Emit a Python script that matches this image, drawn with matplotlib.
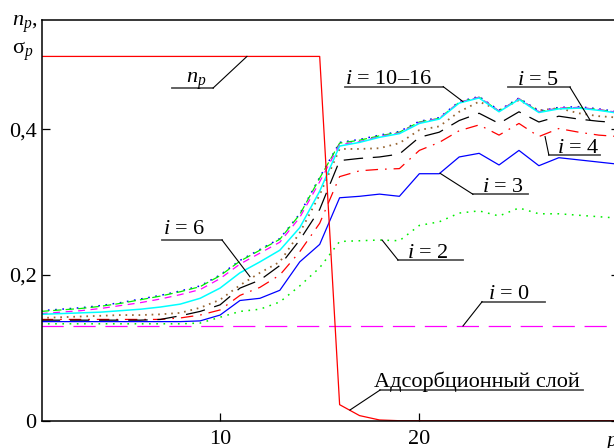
import numpy as np
import matplotlib.pyplot as plt

plt.rcParams['font.family'] = ['Liberation Serif', 'DejaVu Serif']
plt.rcParams['mathtext.fontset'] = 'custom'
plt.rcParams['mathtext.rm'] = 'Liberation Serif'
plt.rcParams['mathtext.it'] = 'Liberation Serif:italic'
plt.rcParams['lines.scale_dashes'] = False

p = np.arange(1, 31)

n_p = [0.5] * 15 + [0.022, 0.007, 0.001] + [0.0] * 12

s0 = [0.13] * 30
s2 = [0.133, 0.133, 0.133, 0.133, 0.133, 0.133, 0.133, 0.133, 0.134, 0.142,
      0.150, 0.153, 0.163, 0.185, 0.210, 0.246, 0.247, 0.248, 0.247, 0.268,
      0.273, 0.285, 0.288, 0.281, 0.292, 0.284, 0.284, 0.282, 0.280, 0.278]
s3 = [0.136, 0.136, 0.136, 0.136, 0.136, 0.136, 0.136, 0.136, 0.137, 0.145,
      0.165, 0.168, 0.179, 0.218, 0.242, 0.306, 0.308, 0.311, 0.308, 0.339,
      0.339, 0.362, 0.367, 0.351, 0.371, 0.350, 0.361, 0.358, 0.355, 0.352]
s4 = [0.139, 0.139, 0.139, 0.139, 0.139, 0.139, 0.139, 0.141, 0.145, 0.152,
      0.172, 0.183, 0.200, 0.232, 0.271, 0.335, 0.343, 0.345, 0.346, 0.371,
      0.382, 0.398, 0.406, 0.392, 0.408, 0.390, 0.401, 0.396, 0.392, 0.390]
s5 = [0.138, 0.138, 0.138, 0.138, 0.138, 0.138, 0.139, 0.144, 0.150, 0.159,
      0.182, 0.193, 0.213, 0.248, 0.290, 0.357, 0.360, 0.362, 0.366, 0.389,
      0.396, 0.412, 0.422, 0.408, 0.424, 0.410, 0.418, 0.414, 0.411, 0.409]
s6 = [0.141, 0.142, 0.143, 0.144, 0.145, 0.145, 0.146, 0.148, 0.155, 0.166,
      0.186, 0.203, 0.218, 0.258, 0.310, 0.373, 0.373, 0.374, 0.381, 0.399,
      0.404, 0.424, 0.438, 0.426, 0.440, 0.426, 0.429, 0.422, 0.418, 0.416]
s_cyan = [0.146, 0.147, 0.148, 0.149, 0.151, 0.153, 0.156, 0.160, 0.168, 0.182,
          0.203, 0.218, 0.234, 0.265, 0.315, 0.377, 0.382, 0.389, 0.394, 0.408,
          0.414, 0.436, 0.443, 0.424, 0.441, 0.423, 0.428, 0.429, 0.426, 0.422]
s_mag = [0.147, 0.149, 0.151, 0.154, 0.158, 0.162, 0.167, 0.173, 0.180, 0.195,
         0.215, 0.230, 0.245, 0.279, 0.328, 0.379, 0.383, 0.390, 0.395, 0.409,
         0.415, 0.437, 0.444, 0.425, 0.442, 0.424, 0.429, 0.430, 0.427, 0.423]
s_green = [0.150, 0.152, 0.154, 0.157, 0.161, 0.166, 0.171, 0.177, 0.184, 0.199,
           0.219, 0.234, 0.249, 0.283, 0.333, 0.381, 0.385, 0.391, 0.396, 0.410,
           0.415, 0.437, 0.444, 0.425, 0.442, 0.424, 0.429, 0.430, 0.427, 0.423]
s_bdot = [v + 0.001 for v in s_green]

fig = plt.figure(figsize=(6.14, 4.48), dpi=100)
ax = fig.add_axes([42.3 / 614, (448 - 420.7) / 448, (618.6 - 42.3) / 614, (420.7 - 20) / 448])

lw = 0.9
ax.plot(p, s0, color='#ff00ff', lw=lw, dashes=(16, 7))
ax.plot(p, s2, color='#00ee00', lw=1.1, dashes=(1.2, 4))
ax.plot(p, s3, color='#0000ff', lw=lw)
ax.plot(p, s4, color='#ff0000', lw=lw, dashes=(9, 5, 1.2, 5))
ax.plot(p, s5, color='black', lw=lw, dashes=(14, 7))
ax.plot(p, s6, color='#996633', lw=1.3, dashes=(1.2, 3.5))
ax.plot(p, s_bdot, color='#0000ff', lw=1.1, dashes=(1.2, 4))
ax.plot(p, s_green, color='#00ee00', lw=lw, dashes=(6, 3))
ax.plot(p, s_mag, color='#ff00ff', lw=lw, dashes=(5, 4))
ax.plot(p, s_cyan, color='#00ffff', lw=1.1)
ax.plot(p, n_p, color='#ff0000', lw=lw)

ax.set_xlim(1.08, 30)
ax.set_ylim(0, 0.55)
ax.set_xticks([10, 20])
ax.set_xticklabels(['10', '20'])
ax.set_yticks([0, 0.2, 0.4])
ax.set_yticklabels(['0', '0,2', '0,4'])
ax.tick_params(direction='in', length=6, width=0.9, labelsize=16, right=True)
ax.tick_params(axis='x', pad=7)
ax.tick_params(axis='y', pad=4)
for s in ax.spines.values():
    s.set_linewidth(1.1)

# labels with underline and leader line: text, text x, text y, underline x0, x1, y, leader target
labels = [
    ('$n_p$', 8.3, 0.463, 7.59, 9.65, 0.4566, 9.65, 11.35, 0.5),
    ('$i$ = 10–16', 16.27, 0.462, 16.27, 21.2, 0.4585, 21.2, 22.19, 0.438),
    ('$i$ = 5', 24.9, 0.461, 24.45, 27.56, 0.4577, 27.56, 28.56, 0.413),
    ('$i$ = 4', 26.91, 0.3675, 26.5, 29.07, 0.3647, 26.5, 26.31, 0.39),
    ('$i$ = 3', 23.15, 0.3143, 22.69, 25.45, 0.3108, 22.69, 21.04, 0.3396),
    ('$i$ = 6', 7.14, 0.2563, 7.09, 10.1, 0.248, 10.1, 11.5, 0.1977),
    ('$i$ = 2', 19.38, 0.2229, 18.93, 22.19, 0.2206, 18.93, 18.13, 0.248),
    ('$i$ = 0', 23.45, 0.167, 23.15, 26.31, 0.1633, 23.15, 22.19, 0.13),
    ('Адсорбционный слой', 17.73, 0.0467, 18.03, 28.21, 0.0421, 18.03, 16.52, 0.0147),
]
for txt, tx, ty, ux0, ux1, uy, lx, ex, ey in labels:
    ax.text(tx, ty, txt, fontsize=16, ha='left', va='baseline')
    ax.plot([ux0, ux1], [uy, uy], color='#555555', lw=1.3)
    ax.plot([lx, ex], [uy, ey], color='black', lw=0.8)

fig.text(12 / 614, 1 - 26 / 448, '$n_p$,', fontsize=16, va='baseline')
fig.text(12 / 614, 1 - 54 / 448, 'σ$_p$', fontsize=16, va='baseline')
fig.text(605 / 614, 1 - 446 / 448, '$p$', fontsize=16, va='baseline')

fig.savefig('out.png', dpi=100)
